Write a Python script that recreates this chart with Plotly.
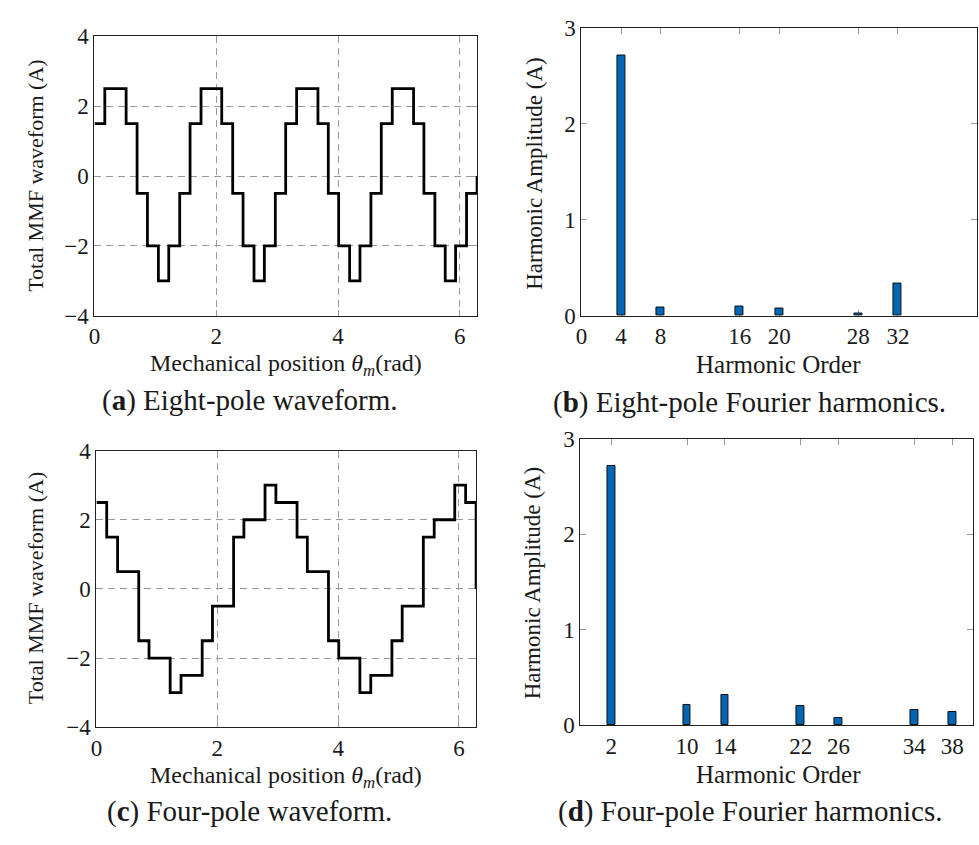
import plotly.graph_objects as go

# ---------------- data ----------------
theta = [0, 0.17, 0.35, 0.52, 0.70, 0.87, 1.05, 1.22, 1.40, 1.57, 1.75, 1.92,
         2.09, 2.27, 2.44, 2.62, 2.79, 2.97, 3.14, 3.32, 3.49, 3.67, 3.84, 4.01,
         4.19, 4.36, 4.54, 4.71, 4.89, 5.06, 5.24, 5.41, 5.59, 5.76, 5.93, 6.11, 6.2832]

mmf_eight = [1.5, 2.5, 2.5, 1.5, -0.5, -2, -3, -2, -0.5,
             1.5, 2.5, 2.5, 1.5, -0.5, -2, -3, -2, -0.5,
             1.5, 2.5, 2.5, 1.5, -0.5, -2, -3, -2, -0.5,
             1.5, 2.5, 2.5, 1.5, -0.5, -2, -3, -2, -0.5, 0]

mmf_four = [2.5, 1.5, 0.5, 0.5, -1.5, -2, -2, -3, -2.5, -2.5, -1.5, -0.5, -0.5, 1.5, 2, 2, 3, 2.5,
            2.5, 1.5, 0.5, 0.5, -1.5, -2, -2, -3, -2.5, -2.5, -1.5, -0.5, -0.5, 1.5, 2, 2, 3, 2.5, 0]

order_eight = [4, 8, 16, 20, 28, 32]
amp_eight = [2.71, 0.085, 0.095, 0.078, 0.024, 0.338]
ticks_eight = [0, 4, 8, 16, 20, 28, 32]

order_four = [2, 10, 14, 22, 26, 34, 38]
amp_four = [2.72, 0.21, 0.32, 0.203, 0.078, 0.156, 0.139]
ticks_four = [2, 10, 14, 22, 26, 34, 38]

wave_xticks = [0, 2, 4, 6]
wave_yticks = [-4, -2, 0, 2, 4]
amp_yticks = [0, 1, 2, 3]

# ---------------- style ----------------
W, H = 979, 845
FONT = "Liberation Serif"
TXT = "#1a1a1a"
BAR = "#0066b3"
TICKF = dict(family=FONT, size=23, color=TXT)

def px(x):
    return x / W

def py(y):
    return 1 - y / H

fig = go.Figure()

fig.add_trace(go.Scatter(x=theta, y=mmf_eight, mode="lines", line_shape="hv",
                         line=dict(color="black", width=2.8), xaxis="x", yaxis="y",
                         showlegend=False))
fig.add_trace(go.Bar(x=order_eight, y=amp_eight, width=0.8,
                     marker=dict(color=BAR, line=dict(color="#111", width=1)),
                     xaxis="x2", yaxis="y2", showlegend=False))
fig.add_trace(go.Scatter(x=theta, y=mmf_four, mode="lines", line_shape="hv",
                         line=dict(color="black", width=2.8), xaxis="x3", yaxis="y3",
                         showlegend=False))
fig.add_trace(go.Bar(x=order_four, y=amp_four, width=0.8,
                     marker=dict(color=BAR, line=dict(color="#111", width=1)),
                     xaxis="x4", yaxis="y4", showlegend=False))

common = dict(showline=True, linecolor="#222", linewidth=1, mirror="ticks",
              ticks="inside", ticklen=6, tickcolor="#999", tickwidth=1,
              tickfont=TICKF, zeroline=False, layer="below traces")

grid = dict(showgrid=True, gridcolor="#9a9a9a", gridwidth=1, griddash="7px,5px")

fig.update_layout(
    width=W, height=H, margin=dict(l=0, r=0, t=0, b=0),
    paper_bgcolor="white", plot_bgcolor="white", bargap=0,
    xaxis=dict(domain=[px(89), px(474)], range=[0, 6.2832], tickvals=wave_xticks,
               anchor="y", **common, **grid),
    yaxis=dict(domain=[py(313), py(25)], range=[-4, 4], tickvals=wave_yticks,
               anchor="x", **common, **grid),
    xaxis2=dict(domain=[px(579), px(977)], range=[0, 40], tickvals=ticks_eight,
                anchor="y2", showgrid=False, **common),
    yaxis2=dict(domain=[py(313), py(16)], range=[0, 3], tickvals=amp_yticks,
                anchor="x2", showgrid=False, **common),
    xaxis3=dict(domain=[px(91), px(473)], range=[0, 6.2832], tickvals=wave_xticks,
                anchor="y3", **common, **grid),
    yaxis3=dict(domain=[py(737), py(452)], range=[-4, 4], tickvals=wave_yticks,
                anchor="x3", **common, **grid),
    xaxis4=dict(domain=[px(578), px(973)], range=[-1.25, 40.2], tickvals=ticks_four,
                anchor="y4", showgrid=False, **common),
    yaxis4=dict(domain=[py(735), py(440)], range=[0, 3], tickvals=amp_yticks,
                anchor="x4", showgrid=False, **common),
)

def label(text, x, y, size, angle=0):
    fig.add_annotation(text=text, x=px(x), y=py(y), xref="paper", yref="paper",
                       showarrow=False, xanchor="center", yanchor="middle",
                       textangle=angle, font=dict(family=FONT, size=size, color=TXT))

mech = "Mechanical position <i>θ</i><sub><i>m</i></sub>(rad)"
label(mech, 282, 364, 24)
label(mech, 282, 788, 24)
label("Harmonic Order", 777, 363, 25)
label("Harmonic Order", 777, 786, 25)
label("Total MMF waveform (A)", 30, 169, 22, -90)
label("Total MMF waveform (A)", 30, 594, 22, -90)
label("Harmonic Amplitude (A)", 531, 166, 23, -90)
label("Harmonic Amplitude (A)", 530, 588, 23, -90)

label("(<b>a</b>) Eight-pole waveform.", 246, 400, 29)
label("(<b>b</b>) Eight-pole Fourier harmonics.", 748, 402, 29)
label("(<b>c</b>) Four-pole waveform.", 245, 824, 29)
label("(<b>d</b>) Four-pole Fourier harmonics.", 749, 824, 29)

post = ("document.documentElement.style.margin='0';"
        "document.documentElement.style.overflow='hidden';"
        "document.body.style.margin='0';document.body.style.overflow='hidden';"
        "var d=document.getElementById('{plot_id}');"
        "d.style.position='fixed';d.style.left='0px';d.style.top='0px';")

fig.write_html("out.html", config={"displayModeBar": False}, post_script=post)
